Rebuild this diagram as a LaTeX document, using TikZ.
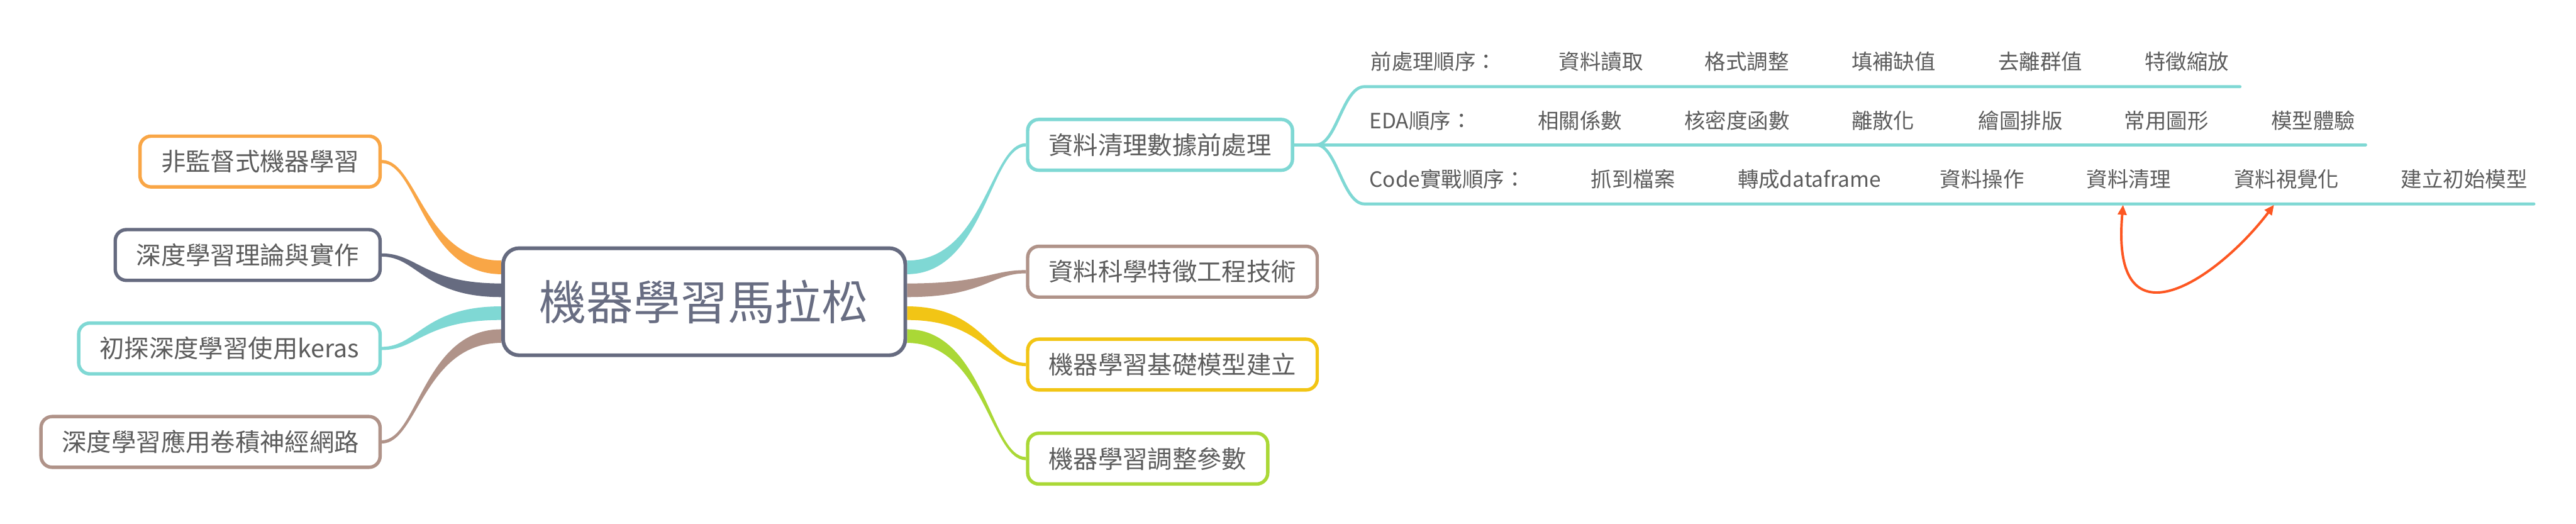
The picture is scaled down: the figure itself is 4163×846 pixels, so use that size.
\documentclass[tikz,border=0pt]{standalone}
\usepackage{fontspec}
\setmainfont{Noto Sans CJK TC}
\usetikzlibrary{calc,arrows.meta,backgrounds}
\definecolor{corange}{HTML}{F9A646}
\definecolor{cslate}{HTML}{666B80}
\definecolor{cteal}{HTML}{7FD8D4}
\definecolor{cbrown}{HTML}{B09389}
\definecolor{cyellow}{HTML}{F2C515}
\definecolor{cgreen}{HTML}{AAD836}
\definecolor{ctxt}{HTML}{5C5C5C}
\definecolor{cctext}{HTML}{686D82}
\definecolor{cred}{HTML}{FD5722}
\newcommand\mmribbon[3]{%
  \fill[#1] let \p1=(#2), \p2=(#3), \n1={0.65*(\x2-\x1)}, \n2={0.3*(\x2-\x1)} in
   (\x1,\y1+11pt) .. controls (\x1+\n1,\y1+11pt) and (\x2-\n2,\y2+2.6pt) .. (\x2,\y2+2.6pt)
   -- (\x2,\y2-2.6pt) .. controls (\x2-\n2,\y2-2.6pt) and (\x1+\n1,\y1-11pt) .. (\x1,\y1-11pt) -- cycle;}
\begin{document}
\begin{tikzpicture}[x=1pt,y=-1pt,
  topic/.style={draw, line width=5.5pt, rounded corners=18pt, fill=white, text=ctxt,
    font=\fontsize{40}{48}\selectfont, inner xsep=34pt, inner ysep=0pt, minimum height=82pt},
  central/.style={draw=cslate, line width=6pt, rounded corners=26pt, fill=white, text=cctext,
    font=\fontsize{76}{90}\selectfont, minimum width=650pt, minimum height=173pt, inner sep=0pt},
  rowtext/.style={anchor=base west, text=ctxt, font=\fontsize{34}{40}\selectfont, inner sep=0pt},
  subline/.style={draw=cteal, line width=4.8pt, line cap=round},
  relarrow/.style={draw=cred, line width=4pt, {Triangle[length=16pt,width=14pt]}-{Triangle[length=16pt,width=14pt]}}
]
\useasboundingbox (0,0) rectangle (4163,846);

% central topic
\node[central] (c) at (1138,487.5) {機器學習馬拉松};

% left topics
\node[topic, draw=corange, anchor=east] (l1) at (617,261) {非監督式機器學習};
\node[topic, draw=cslate, anchor=east] (l2) at (617,412) {深度學習理論與實作};
\node[topic, draw=cteal, anchor=east] (l3) at (617,563) {初探深度學習使用keras};
\node[topic, draw=cbrown, anchor=east] (l4) at (617,714) {深度學習應用卷積神經網路};

% right topics
\node[topic, draw=cteal, anchor=west] (r1) at (1658,234) {資料清理數據前處理};
\node[topic, draw=cbrown, anchor=west] (r2) at (1658,439) {資料科學特徵工程技術};
\node[topic, draw=cyellow, anchor=west] (r3) at (1658,589) {機器學習基礎模型建立};
\node[topic, draw=cgreen, anchor=west] (r4) at (1658,741) {機器學習調整參數};

% tapered branches
\begin{scope}[on background layer]
\fill[white] (0,0) rectangle (4163,846);
\mmribbon{corange}{$(c.west)+(0,-55.5)$}{l1.east}
\mmribbon{cslate}{$(c.west)+(0,-18.5)$}{l2.east}
\mmribbon{cteal}{$(c.west)+(0,18.5)$}{l3.east}
\mmribbon{cbrown}{$(c.west)+(0,55.5)$}{l4.east}
\mmribbon{cteal}{$(c.east)+(0,-55.5)$}{r1.west}
\mmribbon{cbrown}{$(c.east)+(0,-18.5)$}{r2.west}
\mmribbon{cyellow}{$(c.east)+(0,18.5)$}{r3.west}
\mmribbon{cgreen}{$(c.east)+(0,55.5)$}{r4.west}
\end{scope}

% sub topics of r1
\coordinate (fk) at (2127,234);
\coordinate (t1) at (2205,140);
\coordinate (e1) at (3620,140);
\coordinate (e2) at (3823,234);
\coordinate (t3) at (2205,329.5);
\coordinate (e3) at (4095,329.5);
\draw[subline] (r1.east) -- (fk) -- (e2);
\draw[subline] (fk) .. controls (2160,234) and (2170,140) .. (t1) -- (e1);
\draw[subline] (fk) .. controls (2160,234) and (2170,329.5) .. (t3) -- (e3);

% row 1
\node[rowtext] (p0) at (2215,112.5) {前處理順序：};
\node[rowtext] (p1) at (2519,112.5) {資料讀取};
\node[rowtext] (p2) at (2755,112.5) {格式調整};
\node[rowtext] (p3) at (2992,112.5) {填補缺值};
\node[rowtext] (p4) at (3229,112.5) {去離群值};
\node[rowtext] (p5) at (3466,112.5) {特徵縮放};
% row 2
\node[rowtext] (q0) at (2213,207.5) {EDA順序：};
\node[rowtext] (q1) at (2485,207.5) {相關係數};
\node[rowtext] (q2) at (2722,207.5) {核密度函數};
\node[rowtext] (q3) at (2992,207.5) {離散化};
\node[rowtext] (q4) at (3197,207.5) {繪圖排版};
\node[rowtext] (q5) at (3433,207.5) {常用圖形};
\node[rowtext] (q6) at (3670,207.5) {模型體驗};
% row 3
\node[rowtext] (s0) at (2213,302.5) {Code實戰順序：};
\node[rowtext] (s1) at (2571,302.5) {抓到檔案};
\node[rowtext] (s2) at (2808,302.5) {轉成dataframe};
\node[rowtext] (s3) at (3135,302.5) {資料操作};
\node[rowtext] (s4) at (3372,302.5) {資料清理};
\node[rowtext] (s5) at (3610,302.5) {資料視覺化};
\node[rowtext] (s6) at (3880,302.5) {建立初始模型};

% relationship arrow
\coordinate (a1) at (3431,331);
\coordinate (a2) at (3675,331);
\draw[relarrow] (a1) .. controls (3410,570) and (3585,450) .. (a2);
\end{tikzpicture}
\end{document}
